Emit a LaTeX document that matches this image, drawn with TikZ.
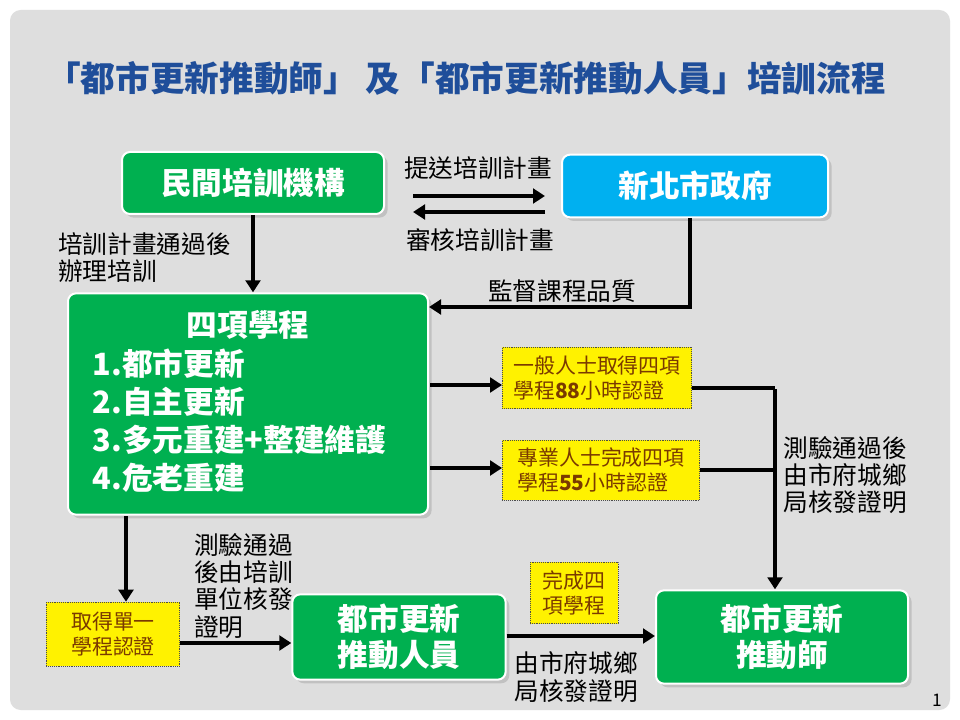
\documentclass[tikz,border=0pt]{standalone}
\usepackage{fontspec}
\setmainfont{Noto Sans CJK TC}
\usetikzlibrary{arrows.meta,shadows}
\definecolor{gbox}{HTML}{00B050}
\definecolor{bbox}{HTML}{00B0F0}
\definecolor{ttl}{HTML}{1F4E9A}
\definecolor{ytxt}{HTML}{7A3A00}
\begin{document}
\begin{tikzpicture}[x=0.75pt,y=-0.75pt,
  gb/.style={draw=white,line width=1.5pt,rounded corners=6pt,fill=gbox,text=white,font=\bfseries\fontsize{23}{27}\selectfont,align=center,drop shadow={opacity=0.3}},
  yb/.style={draw=black!70,densely dotted,fill=yellow,text=ytxt,font=\fontsize{15.7}{19}\selectfont,align=left,inner sep=2pt},
  lb/.style={font=\fontsize{18.5}{20.5}\selectfont,align=left,text=black,inner sep=0pt},
  ar/.style={line width=3pt,-{Triangle[length=9pt,width=11pt]}},
  ln/.style={line width=3pt}]
\useasboundingbox (0,0) rectangle (960,720);
\fill[white] (0,0) rectangle (960,720);
\fill[black!13,rounded corners=8pt] (10,10) rectangle (950,710);
\node[font=\bfseries\fontsize{26}{30}\selectfont,text=ttl] (title) at (466,78) {「都市更新推動師」 及「都市更新推動人員」培訓流程};
\node[gb,minimum width=196.5pt,minimum height=46.5pt] (min) at (253,183) {民間培訓機構};
\node[gb,fill=bbox,minimum width=199.5pt,minimum height=47pt] (gov) at (695,186) {新北市政府};
\node[gb,minimum width=270pt,minimum height=166pt] (four) at (248,404) {};
\node[font=\bfseries\fontsize{23}{27}\selectfont,text=white] (ft) at (248,325) {四項學程};
\node[font=\bfseries\fontsize{23}{28.5}\selectfont,text=white,align=left,anchor=west] (fl) at (88,421) {1.都市更新\\2.自主更新\\3.多元重建+整建維護\\4.危老重建};
\node[yb,minimum width=142pt,minimum height=46pt] (y1) at (597,378) {一般人士取得四項\\學程\textbf{88}小時認證};
\node[yb,minimum width=148pt,minimum height=45pt] (y2) at (601,470) {專業人士完成四項\\學程\textbf{55}小時認證};
\node[yb,minimum width=100pt,minimum height=48pt] (y3) at (113,634) {取得單一\\學程認證};
\node[yb,minimum width=66pt,minimum height=46pt] (y4) at (574,593) {完成四\\項學程};
\node[gb,minimum width=160pt,minimum height=64pt] (staff) at (399,637) {都市更新\\推動人員};
\node[gb,minimum width=189pt,minimum height=70pt] (mast) at (782,637) {都市更新\\推動師};
\coordinate (sa) at (413,196); \coordinate (sb) at (545,196);
\coordinate (ra) at (545,212); \coordinate (rb) at (413,212);
\draw[ar] (sa) -- (sb);
\draw[ar] (ra) -- (rb);
\node[lb] (l1) at (478,168) {提送培訓計畫};
\node[lb] (l2) at (480,240) {審核培訓計畫};
\draw[ar] (min.south) -- (min.south |- four.north);
\node[lb,anchor=north west] (l3) at (58,232) {培訓計畫通過後\\辦理培訓};
\coordinate (g1) at (690,307);
\draw[ar] (gov.south -| g1) -- (g1) -- (four.east |- g1);
\node[lb] (l4) at (562,291) {監督課程品質};
\draw[ar] (430,385) -- (y1.west |- 0,385);
\draw[ar] (430,468) -- (y2.west |- 0,468);
\coordinate (j1) at (775,388); \coordinate (j2) at (775,470);
\draw[ln] (y1.east |- j1) -- (j1);
\draw[ln] (y2.east |- j2) -- (j2);
\draw[ar] ([yshift=-1.1pt]j1) -- (mast.north -| j1);
\node[lb] (l5) at (845,475) {測驗通過後\\由市府城鄉\\局核發證明};
\draw[ar] (126,516) -- (y3.north -| 126,0);
\node[lb,anchor=north west] (l6) at (194,533) {測驗通過\\後由培訓\\單位核發\\證明};
\draw[ar] (y3.east |- 0,643) -- (staff.west |- 0,643);
\draw[ar] (staff.east |- 0,636) -- (mast.west |- 0,636);
\node[lb] (l7) at (576,677) {由市府城鄉\\局核發證明};
\node[font=\fontsize{13}{15}\selectfont] (pg) at (937,700) {1};
\end{tikzpicture}
\end{document}
